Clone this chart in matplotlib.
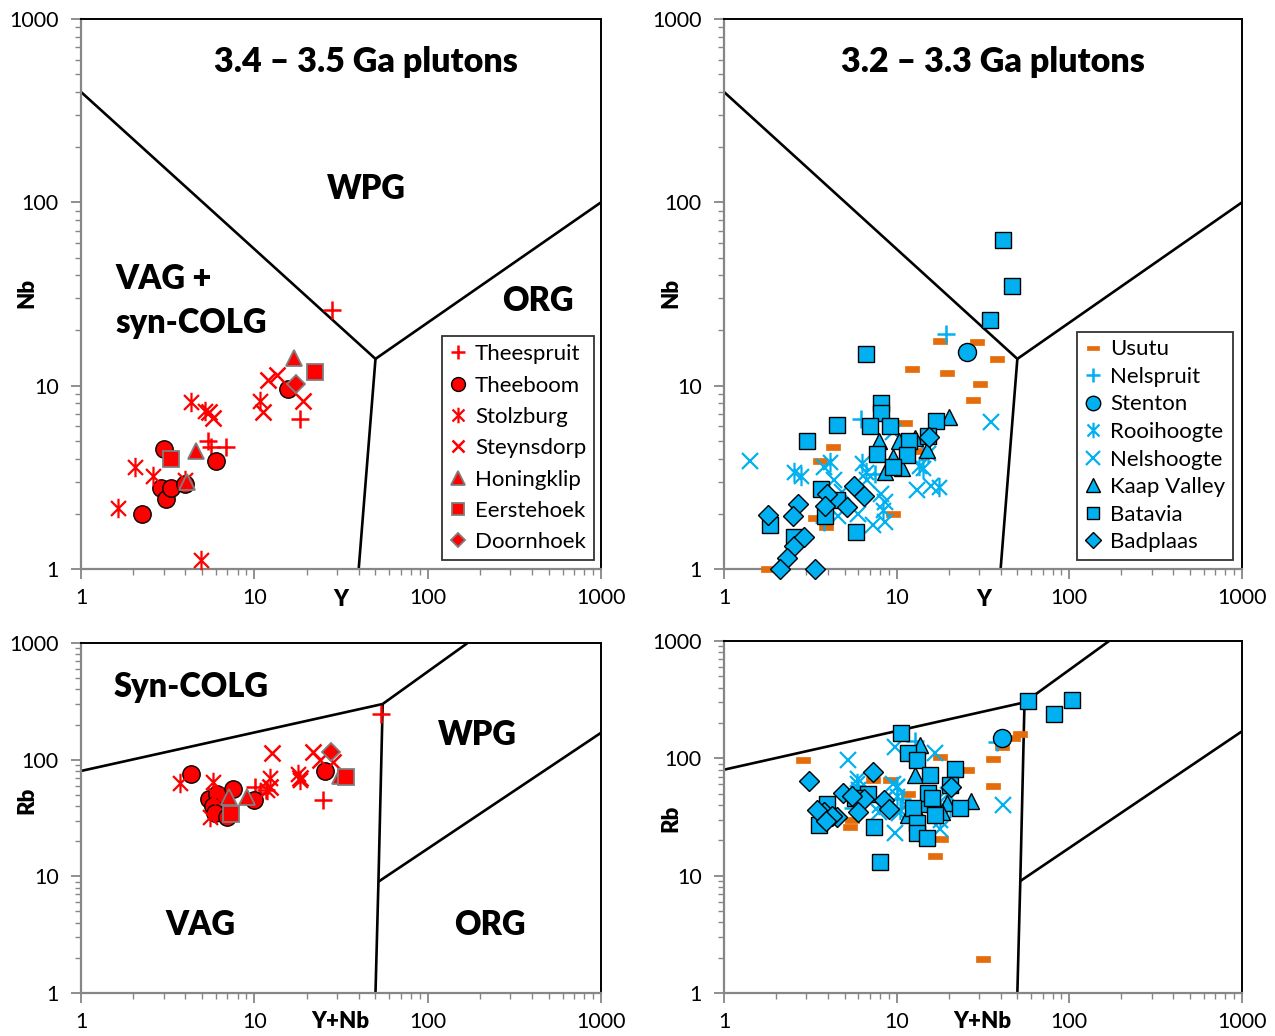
import matplotlib
matplotlib.use('Agg')
import matplotlib.pyplot as plt
from matplotlib.path import Path
from matplotlib.ticker import FixedLocator, LogLocator, NullFormatter, FixedFormatter

plt.rcParams['font.family'] = ['Lato', 'DejaVu Sans']

RED = '#FF0000'; BLUE = '#00B0F0'; ORANGE = '#E46C0A'; GREY = '#7F7F7F'

# ---------------- data: 3.4-3.5 Ga, Nb vs Y ----------------
tl_thees_Y = [5.4, 5.65, 6.9, 18.4, 28]
tl_thees_Nb = [5.0, 4.65, 4.65, 6.6, 26]
tl_theeb_Y = [2.25, 3.0, 2.9, 3.1, 3.3, 4.0, 6.0, 15.6]
tl_theeb_Nb = [2.0, 4.5, 2.75, 2.4, 2.75, 2.9, 3.9, 9.6]
tl_stolz_Y = [1.63, 2.06, 2.6, 4.0, 4.3, 4.9, 5.2, 10.8]
tl_stolz_Nb = [2.15, 3.6, 3.2, 3.05, 8.1, 1.12, 7.3, 8.3]
tl_steyn_Y = [5.45, 5.75, 11.2, 12.0, 13.5, 19.2]
tl_steyn_Nb = [7.2, 6.64, 7.2, 10.7, 11.4, 8.2]
tl_honing_Y = [4.1, 4.6, 17.0]
tl_honing_Nb = [3.0, 4.4, 14.2]
tl_eerste_Y = [3.3, 22.3]
tl_eerste_Nb = [4.0, 11.9]
tl_doorn_Y = [17.5]
tl_doorn_Nb = [10.2]

# ---------------- data: 3.4-3.5 Ga, Rb vs Y+Nb ----------------
bl_thees_X = [10.1, 10.8, 11.6, 25, 54]
bl_thees_Rb = [58, 52, 55, 45, 246]
bl_theeb_X = [4.3, 7.5, 5.44, 6.07, 5.75, 5.9, 7.0, 9.9, 25.6]
bl_theeb_Rb = [76, 56, 46, 51, 40, 35, 32, 45, 80]
bl_stolz_X = [3.73, 5.8, 12.3, 11.8, 17.9, 18.4, 5.55, 5.9]
bl_stolz_Rb = [63, 64, 69, 55, 76, 67, 32, 50]
bl_steyn_X = [12.6, 21.9, 23.9, 18.4, 12.3, 28.5]
bl_steyn_Rb = [113, 117, 99, 69, 58, 96]
bl_honing_X = [7.1, 9.1, 31]
bl_honing_Rb = [48, 48, 72]
bl_eerste_X = [7.3, 34]
bl_eerste_Rb = [34, 71]
bl_doorn_X = [27.7]
bl_doorn_Rb = [116]

# ---------------- data: 3.2-3.3 Ga, Nb vs Y ----------------
tr_usutu_Y = [1.8, 17.8, 29, 37.9, 12.2, 19.6, 30.4, 27.8, 11.2, 4.3, 3.6, 3.37, 3.9, 9.56, 13.3]
tr_usutu_Nb = [1.0, 17.6, 17.4, 13.9, 12.4, 11.7, 10.2, 8.4, 6.24, 4.65, 3.9, 1.89, 1.70, 2.0, 4.4]
tr_nelsp_Y = [19.2, 6.2, 3.8, 7.5]
tr_nelsp_Nb = [19.2, 6.6, 1.8, 3.3]
tr_stent_Y = [25.5]
tr_stent_Nb = [15.3]
tr_rooi_Y = [2.53, 2.79, 4.11, 6.26, 6.68, 13.5, 17.6, 14.3, 8.3, 15.2]
tr_rooi_Nb = [3.37, 3.21, 3.82, 3.78, 3.37, 3.64, 2.81, 3.55, 2.1, 4.3]
tr_nelsh_Y = [1.42, 35.2, 4.34, 4.83, 4.58, 6.0, 7.25, 8.52, 8.52, 13.1, 15.8, 8.1, 6.7, 9.5, 3.8]
tr_nelsh_Nb = [3.86, 6.34, 3.05, 2.63, 1.95, 2.0, 1.73, 1.81, 2.32, 2.7, 2.84, 2.57, 3.05, 5.6, 3.6]
tr_kaap_Y = [20.2, 7.86, 8.52, 15.0, 10.3, 10.8, 12.8, 9.5]
tr_kaap_Nb = [6.76, 5.01, 3.37, 4.43, 5.0, 3.55, 5.2, 4.1]
tr_batav_Y = [41.2, 46.6, 34.7, 6.68, 3.02, 4.51, 8.07, 8.07, 7.05, 9.09, 17.0, 11.8, 11.5, 7.65,
              9.5, 15.2, 3.65, 3.85, 1.85, 2.53, 5.84, 4.5]
tr_batav_Nb = [62.4, 35.1, 22.8, 14.9, 4.97, 6.12, 8.04, 7.1, 6.03, 6.03, 6.43, 4.97, 4.2, 4.22,
               3.6, 5.3, 2.74, 1.95, 1.73, 1.5, 1.6, 2.38]
tr_badpl_Y = [1.81, 2.67, 2.5, 2.56, 2.9, 2.33, 2.1, 3.37, 3.94, 3.85, 5.16, 5.69, 6.5, 15.3]
tr_badpl_Nb = [1.98, 2.27, 1.95, 1.33, 1.49, 1.15, 1.0, 1.0, 2.57, 2.2, 2.19, 2.84, 2.5, 5.27]

# ---------------- data: 3.2-3.3 Ga, Rb vs Y+Nb ----------------
br_usutu_X = [2.86, 51.7, 47.3, 40.5, 36.3, 36.3, 25.6, 17.8, 16.7, 18.0, 31.7, 11.7, 5.37, 5.49, 9.15, 7.3]
br_usutu_Rb = [96, 160, 150, 126, 98, 58.6, 80, 103, 14.7, 20.7, 1.96, 50, 26, 29.7, 65, 65]
br_nelsp_X = [37.9, 12.8, 5.6, 10.8]
br_nelsp_Rb = [138, 140, 38, 45]
br_stent_X = [40.6]
br_stent_Rb = [148]
br_rooi_X = [5.9, 6.0, 7.9, 10.0, 10.1, 17.1, 20.4, 17.8, 10.4, 19.5]
br_rooi_Rb = [62, 55, 40, 58, 48, 45, 38, 30, 36, 50]
br_nelsh_X = [5.25, 41.1, 9.8, 16.7, 6.0, 9.78, 17.8, 9.56, 7.9, 10.3, 10.0]
br_nelsh_Rb = [96, 39.8, 126, 110, 67, 22.9, 25, 61, 35, 34, 57]
br_kaap_X = [13.6, 12.7, 27, 19.5, 11.6, 18.3, 14.3, 13.2]
br_kaap_Rb = [130, 72, 43, 42, 33, 35, 41, 35]
br_batav_X = [57.5, 81.7, 103, 10.6, 11.7, 13.1, 21.7, 15.7, 15.1, 20.3, 16, 12.4, 16.6, 23.3,
              13.1, 13.1, 14.9, 7.4, 8.0, 6.8, 5.7, 3.95, 3.55]
br_batav_Rb = [307, 237, 313, 165, 112, 97, 81, 72, 51, 59, 46, 38, 33, 38,
               28, 23, 21, 26, 13, 50, 46, 41, 27]
br_badpl_X = [3.1, 7.3, 4.9, 6.5, 8.5, 6.0, 3.8, 3.45, 4.5, 4.2, 20.7, 9.0, 3.9, 5.5]
br_badpl_Rb = [64, 77, 51, 45, 44, 35, 35, 36, 31.5, 32.5, 57, 37, 29, 48]

# discrimination boundaries (Pearce et al.)
nby_left = ([1, 50], [400, 14])
nby_right = ([50, 1000], [14, 100])
nby_down = ([50, 40], [14, 1])
rb_top = ([1, 55], [80, 300])
rb_up = ([55, 170], [300, 1000])
rb_down = ([55, 52, 50], [300, 9, 1])
rb_org = ([52, 1000], [9, 170])

tick_vals = [1, 10, 100, 1000]
tick_labels = ['1', '10', '100', '1000']

# marker styles
AST = Path([(-1, -1), (1, 1), (-1, 1), (1, -1), (0, -1.3), (0, 1.3)],
           [Path.MOVETO, Path.LINETO] * 3)
DASH = [(-1, -0.42), (1, -0.42), (1, 0.42), (-1, 0.42), (-1, -0.42)]

red_names = ['Theespruit', 'Theeboom', 'Stolzburg', 'Steynsdorp', 'Honingklip', 'Eerstehoek', 'Doornhoek']
red_styles = [dict(marker='+', ms=13, mfc=RED, mec=RED, mew=1.8),
              dict(marker='o', ms=12.5, mfc=RED, mec='black', mew=1.0),
              dict(marker=AST, ms=14, mfc='none', mec=RED, mew=1.6),
              dict(marker='x', ms=11, mfc=RED, mec=RED, mew=1.8),
              dict(marker='^', ms=12, mfc=RED, mec=GREY, mew=1.3),
              dict(marker='s', ms=11, mfc=RED, mec=GREY, mew=1.3),
              dict(marker='D', ms=9.5, mfc=RED, mec=GREY, mew=1.3)]
blue_names = ['Usutu', 'Nelspruit', 'Stenton', 'Rooihoogte', 'Nelshoogte', 'Kaap Valley', 'Batavia', 'Badplaas']
blue_styles = [dict(marker=DASH, ms=10, mfc=ORANGE, mec=ORANGE, mew=0.5),
               dict(marker='+', ms=13, mfc=BLUE, mec=BLUE, mew=1.8),
               dict(marker='o', ms=13, mfc=BLUE, mec='black', mew=1.0),
               dict(marker=AST, ms=14, mfc='none', mec=BLUE, mew=1.6),
               dict(marker='x', ms=12, mfc=BLUE, mec=BLUE, mew=1.6),
               dict(marker='^', ms=12, mfc=BLUE, mec='black', mew=1.0),
               dict(marker='s', ms=11.5, mfc=BLUE, mec='black', mew=1.0),
               dict(marker='D', ms=10, mfc=BLUE, mec='black', mew=1.0)]

W, H = 1275, 1036
fig = plt.figure(figsize=(W / 100, H / 100), dpi=100)


def px_ax(x0, x1, ytop, ybot):
    return fig.add_axes([x0 / W, 1 - ybot / H, (x1 - x0) / W, (ybot - ytop) / H])


def style(ax):
    ax.set_xscale('log'); ax.set_yscale('log')
    ax.set_xlim(1, 1000); ax.set_ylim(1, 1000)
    for axis in (ax.xaxis, ax.yaxis):
        axis.set_major_locator(FixedLocator(tick_vals))
        axis.set_major_formatter(FixedFormatter(tick_labels))
        axis.set_minor_locator(LogLocator(base=10, subs=range(2, 10)))
        axis.set_minor_formatter(NullFormatter())
    ax.tick_params(which='major', direction='out', length=7, width=1.3, color='#868686',
                   labelsize=15.5, labelcolor='black')
    ax.tick_params(axis='x', which='major', pad=7)
    ax.tick_params(axis='y', which='major', pad=9)
    ax.tick_params(which='minor', direction='out', length=4, width=1.0, color='#868686')
    for s in ('left', 'bottom'):
        ax.spines[s].set_color('#868686'); ax.spines[s].set_linewidth(1.6)
    for s in ('top', 'right'):
        ax.spines[s].set_color('black'); ax.spines[s].set_linewidth(1.4)


def lines(ax, segs):
    for xs, ys in segs:
        ax.plot(xs, ys, color='black', lw=1.9, solid_capstyle='butt', zorder=2)


def scatter(ax, series, names, styles, legend=None, spacing=0.5):
    handles = []
    for (x, y), name, st in zip(series, names, styles):
        h, = ax.plot(x, y, linestyle='none', label=name, zorder=3, clip_on=False, **st)
        handles.append(h)
    if legend is not None:
        lg = ax.legend(handles=handles, loc='lower right', bbox_to_anchor=legend, borderaxespad=0,
                       fontsize=16, markerscale=0.8, handlelength=0.8, handletextpad=0.35,
                       labelspacing=spacing, borderpad=0.35, frameon=True, fancybox=False)
        lg.get_frame().set_edgecolor('black'); lg.get_frame().set_linewidth(1.3)


bold = dict(fontweight='heavy', color='black')
TS = 24.5
RS = 23.5

# ---- top left ----
ax = px_ax(81, 601, 19, 569); style(ax)
lines(ax, [nby_left, nby_right, nby_down])
scatter(ax, [(tl_thees_Y, tl_thees_Nb), (tl_theeb_Y, tl_theeb_Nb), (tl_stolz_Y, tl_stolz_Nb),
             (tl_steyn_Y, tl_steyn_Nb), (tl_honing_Y, tl_honing_Nb), (tl_eerste_Y, tl_eerste_Nb),
             (tl_doorn_Y, tl_doorn_Nb)], red_names, red_styles, legend=(0.9865, 0.0164), spacing=0.51)
ax.text(0.548, 0.922, '3.4 – 3.5 Ga plutons', transform=ax.transAxes, ha='center', va='center', fontsize=TS, **bold)
ax.text(0.548, 0.691, 'WPG', transform=ax.transAxes, ha='center', va='center', fontsize=RS, **bold)
ax.text(0.067, 0.527, 'VAG +', transform=ax.transAxes, ha='left', va='center', fontsize=RS, **bold)
ax.text(0.067, 0.447, 'syn-COLG', transform=ax.transAxes, ha='left', va='center', fontsize=RS, **bold)
ax.text(0.879, 0.487, 'ORG', transform=ax.transAxes, ha='center', va='center', fontsize=RS, **bold)

# ---- top right ----
ax = px_ax(724, 1242, 19, 569); style(ax)
lines(ax, [nby_left, nby_right, nby_down])
scatter(ax, [(tr_usutu_Y, tr_usutu_Nb), (tr_nelsp_Y, tr_nelsp_Nb), (tr_stent_Y, tr_stent_Nb),
             (tr_rooi_Y, tr_rooi_Nb), (tr_nelsh_Y, tr_nelsh_Nb), (tr_kaap_Y, tr_kaap_Nb),
             (tr_batav_Y, tr_batav_Nb), (tr_badpl_Y, tr_badpl_Nb)], blue_names, blue_styles,
        legend=(0.9826, 0.0164), spacing=0.34)
ax.text(0.519, 0.922, '3.2 – 3.3 Ga plutons', transform=ax.transAxes, ha='center', va='center', fontsize=TS, **bold)

# ---- bottom left ----
ax = px_ax(81, 601, 643, 993); style(ax)
lines(ax, [rb_top, rb_up, rb_down, rb_org])
scatter(ax, [(bl_thees_X, bl_thees_Rb), (bl_theeb_X, bl_theeb_Rb), (bl_stolz_X, bl_stolz_Rb),
             (bl_steyn_X, bl_steyn_Rb), (bl_honing_X, bl_honing_Rb), (bl_eerste_X, bl_eerste_Rb),
             (bl_doorn_X, bl_doorn_Rb)], red_names, red_styles)
ax.text(0.211, 0.874, 'Syn-COLG', transform=ax.transAxes, ha='center', va='center', fontsize=RS, **bold)
ax.text(0.763, 0.737, 'WPG', transform=ax.transAxes, ha='center', va='center', fontsize=RS, **bold)
ax.text(0.229, 0.194, 'VAG', transform=ax.transAxes, ha='center', va='center', fontsize=RS, **bold)
ax.text(0.787, 0.194, 'ORG', transform=ax.transAxes, ha='center', va='center', fontsize=RS, **bold)

# ---- bottom right ----
ax = px_ax(724, 1242, 641, 993); style(ax)
lines(ax, [rb_top, rb_up, rb_down, rb_org])
scatter(ax, [(br_usutu_X, br_usutu_Rb), (br_nelsp_X, br_nelsp_Rb), (br_stent_X, br_stent_Rb),
             (br_rooi_X, br_rooi_Rb), (br_nelsh_X, br_nelsh_Rb), (br_kaap_X, br_kaap_Rb),
             (br_batav_X, br_batav_Rb), (br_badpl_X, br_badpl_Rb)], blue_names, blue_styles)

# axis titles
for x, y, t, r in [(27, 293, 'Nb', 90), (671, 293, 'Nb', 90), (27, 800, 'Rb', 90), (671, 818, 'Rb', 90),
                   (341, 600, 'Y', 0), (984, 600, 'Y', 0), (340, 1022, 'Y+Nb', 0), (982, 1022, 'Y+Nb', 0)]:
    fig.text(x / W, 1 - y / H, t, rotation=r, ha='center', va='center', fontsize=16, **bold)

fig.savefig('out.png', dpi=100)
